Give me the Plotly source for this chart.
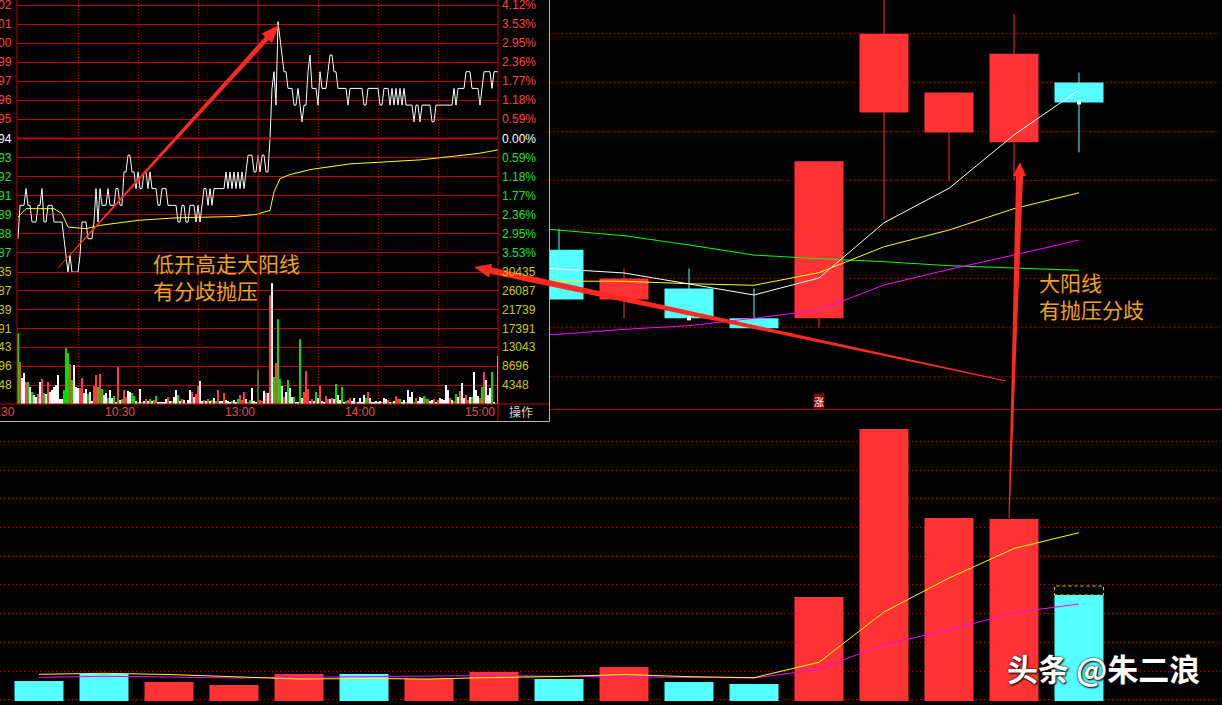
import math
import plotly.graph_objects as go

W, H = 1222, 705

# ---------------- daily K-line (17 sessions; 0-7 hidden behind the intraday inset) ----------------
days = list(range(17))
day_open  = [None] * 8 + [1.797, 1.752, 1.762, 1.735, 1.735, 1.921, 1.903, 1.894, 1.948]
day_high  = [None] * 8 + [1.816, 1.780, 1.780, 1.762, 1.877, 2.040, 1.939, 2.010, 1.957]
day_low   = [None] * 8 + [1.752, 1.735, 1.735, 1.726, 1.726, 1.824, 1.859, 1.860, 1.885]
day_close = [None] * 8 + [1.752, 1.771, 1.735, 1.726, 1.877, 1.992, 1.939, 1.974, 1.930]
ma5  = [None] * 7 + [1.7832, 1.7796, 1.7760, 1.7661, 1.7561, 1.7715, 1.8214, 1.8525, 1.9007, 1.9413]
ma10 = [None] * 7 + [1.7688, 1.7688, 1.7685, 1.7663, 1.7649, 1.7763, 1.7997, 1.8148, 1.8341, 1.8485]
ma20 = [None] * 7 + [1.7191, 1.7206, 1.7251, 1.7284, 1.7351, 1.7426, 1.7651, 1.7793, 1.7922, 1.8058]
ma60 = [None] * 7 + [1.8197, 1.8148, 1.8097, 1.8013, 1.7922, 1.7889, 1.7862, 1.7826, 1.7808, 1.7784]
close_marks = [10, 16]

day_vol = [2.0, 2.7, 1.9, 1.6, 2.7, 2.7, 2.2, 2.9, 2.2, 3.4, 1.9, 1.7, 10.4, 27.2, 18.3, 18.2, 10.6]
day_rise = [0, 0, 1, 1, 1, 0, 1, 1, 0, 1, 0, 0, 1, 1, 1, 1, 0]
vol_ma5 = [2.67, 2.77, 2.65, 2.40, 2.20, 2.25, 2.20, 2.35, 2.45, 2.65, 2.43, 2.33, 3.87, 8.90, 12.30, 15.25, 16.83]
vol_ma10 = [2.37, 2.47, 2.40, 2.30, 2.37, 2.45, 2.47, 2.55, 2.47, 2.45, 2.37, 2.30, 3.17, 5.67, 7.10, 8.83, 9.70]
vol_last_forecast = 11.5

# ---------------- intraday (one point per minute, 241 points) ----------------
prev_close = 1.94
minutes = list(range(241))
price = [
    1.88, 1.90, 1.90, 1.90, 1.91, 1.90, 1.90, 1.89, 1.89, 1.89,
    1.90, 1.90, 1.91, 1.89, 1.89, 1.90, 1.90, 1.90, 1.89, 1.89,
    1.89, 1.89, 1.89, 1.88, 1.87, 1.86, 1.87, 1.86, 1.86, 1.86,
    1.86, 1.87, 1.89, 1.89, 1.89, 1.88, 1.88, 1.88, 1.89, 1.91,
    1.89, 1.91, 1.90, 1.90, 1.90, 1.91, 1.90, 1.90, 1.90, 1.91,
    1.91, 1.90, 1.90, 1.92, 1.92, 1.93, 1.93, 1.92, 1.92, 1.91,
    1.92, 1.91, 1.91, 1.92, 1.92, 1.91, 1.92, 1.91, 1.91, 1.91,
    1.90, 1.90, 1.91, 1.91, 1.91, 1.90, 1.90, 1.90, 1.90, 1.90,
    1.89, 1.89, 1.90, 1.90, 1.89, 1.89, 1.90, 1.90, 1.90, 1.89,
    1.90, 1.89, 1.90, 1.91, 1.91, 1.90, 1.91, 1.90, 1.91, 1.91,
    1.91, 1.91, 1.91, 1.91, 1.92, 1.91, 1.92, 1.91, 1.92, 1.91,
    1.92, 1.91, 1.92, 1.91, 1.92, 1.93, 1.93, 1.93, 1.92, 1.92,
    1.93, 1.92, 1.93, 1.93, 1.92, 1.92, 1.94, 1.97, 1.98, 1.96,
    2.01, 2.00, 1.99, 1.98, 1.98, 1.97, 1.97, 1.97, 1.96, 1.96,
    1.97, 1.96, 1.95, 1.96, 1.96, 1.98, 1.99, 1.97, 1.97, 1.97,
    1.96, 1.98, 1.97, 1.97, 1.97, 1.98, 1.99, 1.99, 1.98, 1.98,
    1.97, 1.97, 1.97, 1.97, 1.97, 1.96, 1.97, 1.97, 1.97, 1.97,
    1.97, 1.97, 1.97, 1.96, 1.96, 1.97, 1.97, 1.97, 1.97, 1.97,
    1.97, 1.96, 1.96, 1.97, 1.97, 1.97, 1.96, 1.97, 1.96, 1.97,
    1.96, 1.97, 1.96, 1.97, 1.96, 1.96, 1.96, 1.96, 1.95, 1.96,
    1.96, 1.95, 1.96, 1.96, 1.96, 1.96, 1.96, 1.95, 1.95, 1.96,
    1.96, 1.96, 1.96, 1.96, 1.96, 1.96, 1.96, 1.96, 1.97, 1.96,
    1.97, 1.97, 1.97, 1.97, 1.98, 1.98, 1.98, 1.97, 1.97, 1.97,
    1.97, 1.96, 1.97, 1.98, 1.98, 1.98, 1.98, 1.97, 1.98, 1.98,
    1.98,
]
avg_minutes = [0, 4, 18, 22, 25, 34, 41, 60, 79, 108, 119, 124, 126, 128, 131, 136, 146, 166, 181, 201, 221, 231, 240]
avg_price = [1.893, 1.898, 1.898, 1.895, 1.887, 1.886, 1.888, 1.891, 1.8925, 1.8933, 1.8945, 1.896, 1.897,
             1.908, 1.916, 1.9184, 1.9214, 1.9248, 1.9258, 1.9272, 1.9298, 1.9312, 1.9332]
tick_vol = [
    16330, 9660, 5980, 7130, 5060, 5060, 3910, 2760, 2070, 1610,
    2300, 5060, 5750, 2530, 2300, 5060, 2760, 3220, 3910, 4370,
    6670, 1150, 1150, 3220, 12880, 11730, 9200, 5520, 8970, 3910,
    3680, 3680, 5980, 2530, 3450, 2300, 2760, 690, 4140, 6670,
    3910, 6900, 3450, 2070, 2530, 1380, 3220, 1380, 1840, 460,
    8510, 920, 1150, 3220, 1610, 2990, 2760, 2530, 1840, 690,
    460, 3450, 460, 690, 1150, 690, 1150, 690, 920, 1840,
    460, 460, 460, 460, 1150, 1610, 690, 690, 1610, 3220,
    2070, 690, 1150, 920, 230, 920, 3220, 2760, 1610, 2300,
    4140, 5290, 690, 920, 690, 1150, 690, 920, 1380, 690,
    3220, 690, 690, 2530, 920, 690, 460, 690, 920, 460,
    1150, 2070, 920, 2760, 1150, 460, 920, 3680, 690, 460,
    7820, 920, 690, 2990, 2530, 2530, 25070, 27830, 6210, 9430,
    19550,
    5750, 4140, 1610, 2760, 5520, 3680, 1610, 1610, 460, 460,
    14950, 1380, 2760, 7590, 3450, 690, 1150, 690, 2760, 1380,
    4140, 690, 460, 1840, 1150, 1150, 1380, 1150, 4600, 2070,
    920, 3910, 460, 690, 920, 1380, 690, 1380, 460, 460,
    1380, 460, 2070, 1380, 2760, 1380, 460, 460, 690, 460,
    690, 460, 1380, 1150, 920, 460, 460, 690, 1840, 1150,
    1150, 460, 920, 460, 3220, 1610, 2760, 460, 1380, 690,
    1610, 1380, 1840, 1150, 1150, 690, 920, 1150, 460, 920,
    1380, 1150, 920, 4370, 3220, 1380, 920, 690, 2300, 1610,
    2990, 4830, 1380, 2070, 920, 1610, 1610, 7360, 3220, 1840,
    1380, 3910, 7360, 5520, 2070, 3680, 7360, 460, 230, 11040,
]
tick_dir = ("grwwrgwgww" "rwrgwrwwww" "wwwgggrgww" "wrrwwgwwrr" "grgwwgwwgw"
            "rwgrrwwggw" "gwrwrwgwrg" "wwwwwrwgww" "gwrwgwwrwr" "rwwrwgwrwg"
            "rwwrwwwgww" "grrrwrgwww" "grrwrwrwgr" "g"
            "gwrwgwwgww" "gwrrrwrwgw" "rwwrrwrwgw" "wgwgrrwwrw" "wwwgrwwwww"
            "wrwwrwgwrr" "gwwgwwwgrw" "wwgrgwwrwr" "wwwwwrwrgw" "rwwrrwgwww"
            "rgrwwwgwrw")

price_labels = ["2.02", "2.01", "2.00", "1.99", "1.97", "1.96", "1.95", "1.94",
                "1.93", "1.92", "1.91", "1.89", "1.88", "1.87"]
pct_labels = ["4.12%", "3.53%", "2.95%", "2.36%", "1.77%", "1.18%", "0.59%", "0.00%",
              "0.59%", "1.18%", "1.77%", "2.36%", "2.95%", "3.53%"]
vol_labels = ["30435", "26087", "21739", "17391", "13043", "8696", "4348"]
time_labels = ["9:30", "10:30", "13:00", "14:00", "15:00"]
time_label_minutes = [0, 60, 120, 180, 240]

# ---------------- styles ----------------
UP = "#ff3333"
DOWN = "#55ffff"
DOT_RED = "#b00000"
INSET_RED = "#c40000"
LAB_RED = "#ff4242"
LAB_GREEN = "#22e022"
LAB_YEL = "#cccc00"
ORANGE = "#f2a31c"
NUM_FONT = "Liberation Sans, Arial, sans-serif"
CJK_FONT = "Noto Sans CJK SC, sans-serif"

fig = go.Figure()

# ---- main daily candles ----
vis = [i for i in days if day_open[i] is not None]
for rising, col in ((True, UP), (False, DOWN)):
    xs, ys = [], []
    for i in vis:
        if (day_close[i] >= day_open[i]) == rising:
            xs += [i, i, None]
            ys += [day_low[i], day_high[i], None]
    fig.add_trace(go.Scatter(x=xs, y=ys, mode="lines", line=dict(color=col, width=1),
                             xaxis="x", yaxis="y", hoverinfo="skip"))
fig.add_trace(go.Bar(
    x=vis,
    y=[abs(day_close[i] - day_open[i]) for i in vis],
    base=[min(day_open[i], day_close[i]) for i in vis],
    width=0.754,
    marker=dict(color=[UP if day_close[i] >= day_open[i] else DOWN for i in vis], line=dict(width=0)),
    xaxis="x", yaxis="y", hoverinfo="skip"))
for ma, col in ((ma60, "#00ff00"), (ma20, "#ff00ff"), (ma10, "#ffff00"), (ma5, "#ffffff")):
    fig.add_trace(go.Scatter(x=days, y=ma, mode="lines", line=dict(color=col, width=1),
                             xaxis="x", yaxis="y", hoverinfo="skip"))
fig.add_trace(go.Scatter(x=close_marks, y=[day_close[i] for i in close_marks], mode="markers",
                         marker=dict(symbol="square", size=4, color="#ffffff", line=dict(width=0)),
                         xaxis="x", yaxis="y", hoverinfo="skip"))

# ---- daily volume ----
fig.add_trace(go.Bar(x=days, y=day_vol, width=0.754,
                     marker=dict(color=[UP if r else DOWN for r in day_rise], line=dict(width=0)),
                     xaxis="x2", yaxis="y2", hoverinfo="skip"))
fig.add_trace(go.Scatter(x=days, y=vol_ma10, mode="lines", line=dict(color="#ff00ff", width=1),
                         xaxis="x2", yaxis="y2", hoverinfo="skip"))
fig.add_trace(go.Scatter(x=days, y=vol_ma5, mode="lines", line=dict(color="#ffff00", width=1),
                         xaxis="x2", yaxis="y2", hoverinfo="skip"))

# ---- intraday inset ----
fig.add_trace(go.Scatter(x=avg_minutes, y=avg_price, mode="lines", line=dict(color="#ffff00", width=1),
                         xaxis="x3", yaxis="y3", hoverinfo="skip"))
fig.add_trace(go.Scatter(x=minutes, y=price, mode="lines", line=dict(color="#ffffff", width=1),
                         xaxis="x3", yaxis="y3", hoverinfo="skip"))
dir_col = {"r": "#ff3a3a", "g": "#00dd00", "w": "#ffffff"}
fig.add_trace(go.Bar(x=minutes, y=tick_vol, width=0.5,
                     marker=dict(color=[dir_col[c] for c in tick_dir], line=dict(width=0)),
                     xaxis="x4", yaxis="y4", hoverinfo="skip"))

# ---------------- axes ----------------
step = prev_close * 0.0412 / 7
p_lo = prev_close - 7 * step
p_hi = p_lo + 272 / 1670.0
vstep = 30435 / 7

hidden = dict(showticklabels=False, ticks="", zeroline=False, fixedrange=True)
layout_axes = dict(
    xaxis=dict(domain=[550 / W, 1], range=[(550 - 39) / 65, (W - 39) / 65], anchor="y",
               showgrid=False, showline=True, linecolor="#b40000", linewidth=1, **hidden),
    yaxis=dict(domain=[1 - 409 / H, 1], range=[1.65313, 2.02260], anchor="x",
               showgrid=True, gridcolor=DOT_RED, griddash="1px,3px", gridwidth=1,
               tickmode="linear", tick0=1.85910, dtick=0.044264, **hidden),
    xaxis2=dict(domain=[0, 1], range=[-39 / 65, (W - 39) / 65], anchor="y2", showgrid=False, **hidden),
    yaxis2=dict(domain=[1 - 701 / H, 1 - 416 / H], range=[0, 28.5], anchor="x2",
                showgrid=True, gridcolor=DOT_RED, griddash="1px,3px", gridwidth=1,
                tickmode="linear", tick0=3.0, dtick=2.87, **hidden),
    xaxis3=dict(domain=[17 / W, 498 / W], range=[-0.5, 240], anchor="y3",
                showgrid=True, gridcolor=INSET_RED, griddash="1px,2px",
                tickmode="array", tickvals=[30, 60, 90, 150, 180, 210], **hidden),
    yaxis3=dict(domain=[1 - 272 / H, 1], range=[p_lo, p_hi], anchor="x3",
                showgrid=True, gridcolor=INSET_RED, gridwidth=1,
                tickmode="linear", tick0=prev_close, dtick=step, **hidden),
    xaxis4=dict(domain=[17 / W, 498 / W], range=[-0.5, 240], anchor="y4",
                showgrid=True, gridcolor=INSET_RED, griddash="1px,2px",
                tickmode="array", tickvals=[30, 60, 90, 150, 180, 210], **hidden),
    yaxis4=dict(domain=[1 - 404 / H, 1 - 272 / H], range=[0, 30435], anchor="x4",
                showgrid=True, gridcolor=INSET_RED, gridwidth=1,
                tickmode="linear", tick0=0, dtick=vstep, **hidden),
)

# ---------------- shapes ----------------
shapes = []


def pline(x0, y0, x1, y1, color, width=1, dash=None):
    ln = dict(color=color, width=width)
    if dash:
        ln["dash"] = dash
    shapes.append(dict(type="line", xref="paper", yref="paper",
                       x0=x0 / W, x1=x1 / W, y0=1 - y0 / H, y1=1 - y1 / H, line=ln, layer="above"))


pline(17, 0, 17, 404, INSET_RED)
pline(498, 0, 498, 421, INSET_RED)
shapes.append(dict(type="line", xref="x3", yref="paper", x0=120, x1=120, y0=1 - 404 / H, y1=1,
                   line=dict(color=INSET_RED, width=1)))
shapes.append(dict(type="line", xref="paper", yref="y3", x0=17 / W, x1=498 / W, y0=prev_close, y1=prev_close,
                   line=dict(color=INSET_RED, width=2)))
shapes.append(dict(type="line", xref="paper", yref="y4", x0=17 / W, x1=498 / W, y0=30435, y1=30435,
                   line=dict(color=INSET_RED, width=2)))
pline(0, 404, 549, 404, INSET_RED)
pline(549.5, 0, 549.5, 421.5, "#b8b8b8")
pline(0, 421.5, 549.5, 421.5, "#b8b8b8")

# forecast outline of the last volume bar
shapes.append(dict(type="rect", xref="x2", yref="y2", x0=16 - 0.377, x1=16 + 0.377,
                   y0=day_vol[16], y1=vol_last_forecast,
                   line=dict(color="#d8d800", width=1, dash="dot"), fillcolor="rgba(0,0,0,0)"))


def arrow(tail, tip, w_tail, w_shaft, head_len, head_w, color):
    tx, ty = tail
    px, py = tip
    dx, dy = px - tx, py - ty
    L = math.hypot(dx, dy)
    ux, uy = dx / L, dy / L
    nx, ny = -uy, ux
    bx, by = px - ux * head_len, py - uy * head_len
    pts = [(tx + nx * w_tail, ty + ny * w_tail), (bx + nx * w_shaft, by + ny * w_shaft),
           (bx + nx * head_w, by + ny * head_w), (px, py),
           (bx - nx * head_w, by - ny * head_w), (bx - nx * w_shaft, by - ny * w_shaft),
           (tx - nx * w_tail, ty - ny * w_tail)]
    path = "M " + " L ".join(f"{x / W:.5f},{1 - y / H:.5f}" for x, y in pts) + " Z"
    shapes.append(dict(type="path", xref="paper", yref="paper", path=path,
                       fillcolor=color, line=dict(width=0), layer="above"))


ARROW = "#ff2a1f"
arrow((58, 268), (279, 25), 0.4, 2.5, 18, 7, ARROW)
arrow((1006, 381), (474, 267), 0.5, 3.3, 17, 7, ARROW)
arrow((1009, 518), (1020, 162), 0.5, 3.5, 14, 6.5, ARROW)

# ---------------- annotations ----------------
ann = []
for k in range(14):
    lvl = 7 - k
    col = LAB_RED if lvl > 0 else ("#ffffff" if lvl == 0 else LAB_GREEN)
    yv = prev_close + lvl * step
    ann.append(dict(x=14 / W, xref="paper", y=yv, yref="y3", text=price_labels[k], showarrow=False,
                    xanchor="right", yanchor="middle", font=dict(family=NUM_FONT, size=12, color=col)))
    ann.append(dict(x=500 / W, xref="paper", y=yv, yref="y3", text=pct_labels[k], showarrow=False,
                    xanchor="left", yanchor="middle", font=dict(family=NUM_FONT, size=12, color=col)))
for j, lab in enumerate(vol_labels):
    yv = 30435 - j * vstep
    ann.append(dict(x=14 / W, xref="paper", y=yv, yref="y4", text=lab, showarrow=False,
                    xanchor="right", yanchor="middle", font=dict(family=NUM_FONT, size=12, color=LAB_YEL)))
    ann.append(dict(x=500 / W, xref="paper", y=yv, yref="y4", text=lab, showarrow=False,
                    xanchor="left", yanchor="middle", font=dict(family=NUM_FONT, size=12, color=LAB_YEL)))
for lab, m in zip(time_labels, time_label_minutes):
    ann.append(dict(x=m, xref="x3", y=1 - 412 / H, yref="paper", text=lab, showarrow=False,
                    xanchor="right", yanchor="middle", xshift=-1,
                    font=dict(family=NUM_FONT, size=12, color="#f04848")))
ann.append(dict(x=521 / W, xref="paper", y=1 - 412 / H, yref="paper", text="操作", showarrow=False,
                xanchor="center", yanchor="middle", font=dict(family=CJK_FONT, size=12, color="#d0d0d0")))

for txt, x, y in (("低开高走大阳线<br>有分歧抛压", 151, 276), ("大阳线<br>有抛压分歧", 1037, 295.5)):
    ann.append(dict(x=x / W, xref="paper", y=1 - y / H, yref="paper", text=txt, showarrow=False,
                    xanchor="left", yanchor="middle", align="left",
                    font=dict(family=CJK_FONT, size=21, color=ORANGE)))

ann.append(dict(x=12, xref="x2", y=1 - 401 / H, yref="paper", text="涨", showarrow=False,
                xanchor="center", yanchor="middle", bgcolor="#7a0a0a", borderpad=0,
                font=dict(family=CJK_FONT, size=10, color="#ffffff")))

ann.append(dict(x=1103 / W, xref="paper", y=1 - 667 / H, yref="paper", text="头条 @朱二浪", showarrow=False,
                xanchor="center", yanchor="middle",
                font=dict(family=CJK_FONT, size=31, color="#ffffff", weight="bold",
                          shadow="0px 0px 2px #000000, 1px 1px 2px #000000")))

fig.update_layout(
    width=W, height=H, margin=dict(l=0, r=0, t=0, b=0),
    paper_bgcolor="#000000", plot_bgcolor="#000000",
    showlegend=False, hovermode=False, barmode="overlay",
    shapes=shapes, annotations=ann, **layout_axes,
)

fig.write_html(
    "out.html",
    config={"displayModeBar": False},
    post_script="document.body.style.margin='0';document.body.style.padding='0';"
                "document.body.style.background='#000';document.body.style.overflow='hidden';",
)
